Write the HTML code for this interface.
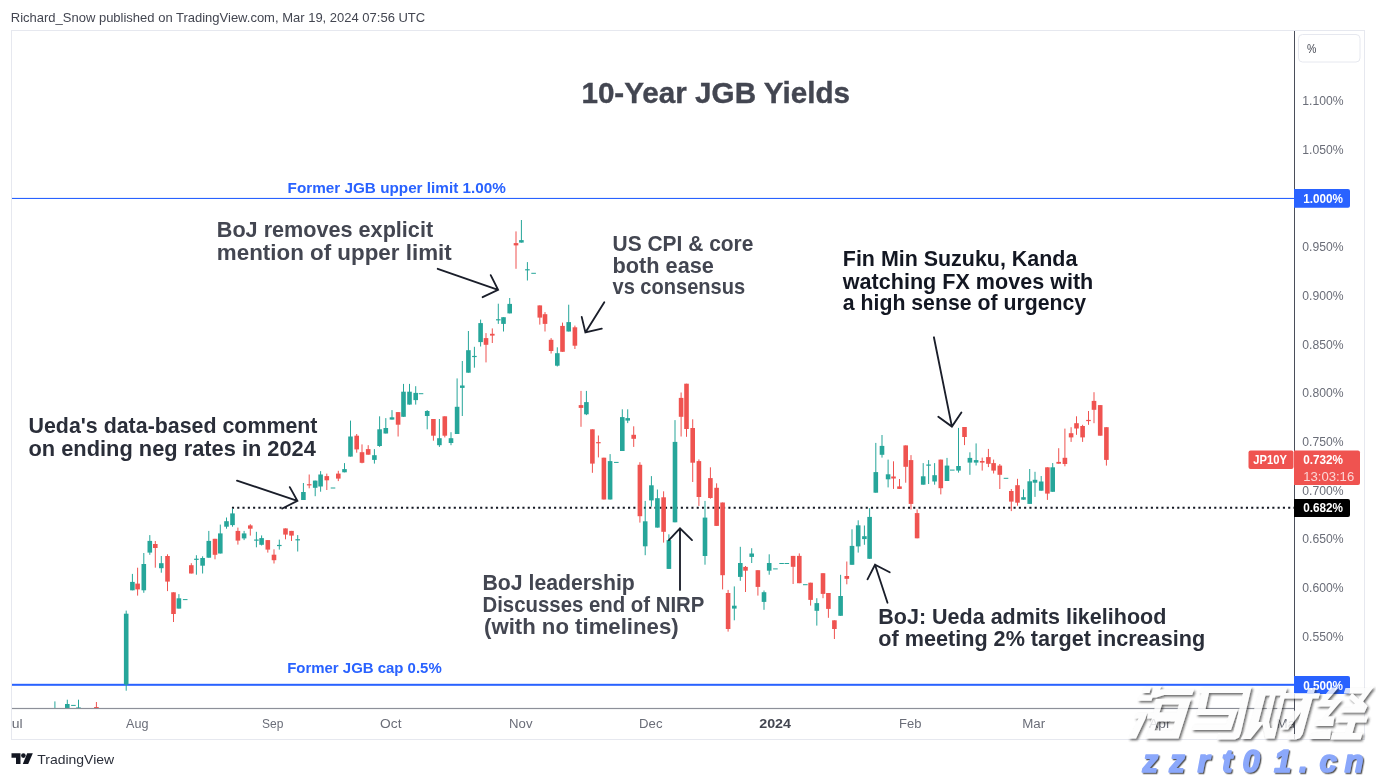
<!DOCTYPE html>
<html><head><meta charset="utf-8"><title>10-Year JGB Yields</title>
<style>
html,body{margin:0;padding:0;background:#fff;}
body{width:1376px;height:778px;overflow:hidden;font-family:"Liberation Sans",sans-serif;}
svg{display:block;}
svg text{font-family:"Liberation Sans",sans-serif;opacity:0.999;}
</style></head><body>
<svg width="1376" height="778" viewBox="0 0 1376 778">
<defs>
<clipPath id="cpL"><rect x="12" y="710" width="40" height="28"/></clipPath>
<clipPath id="cpR"><rect x="1260" y="710" width="34" height="28"/></clipPath>
<clipPath id="plot"><rect x="12" y="31" width="1282" height="677.5"/></clipPath>
</defs>
<rect x="0" y="0" width="1376" height="778" fill="#ffffff"/>
<!-- outer frame -->
<rect x="11.5" y="30.5" width="1353" height="709" fill="none" stroke="#e6e8ef" stroke-width="1"/>
<!-- horizontal lines -->
<rect x="12" y="197.9" width="1282" height="1.1" fill="#2962ff"/>
<rect x="12" y="683.8" width="1282" height="2" fill="#2962ff"/>
<!-- dotted line -->
<line x1="231.95" y1="507.85" x2="1294" y2="507.85" stroke="#131722" stroke-width="2" stroke-dasharray="2.1 3.181"/>
<g clip-path="url(#plot)">
<rect x="54.40" y="701.40" width="1.00" height="6.90" fill="#26a69a"/>
<rect x="66.80" y="699.70" width="1.00" height="8.60" fill="#26a69a"/>
<rect x="65.00" y="704.00" width="4.60" height="4.30" fill="#26a69a"/>
<rect x="71.10" y="704.90" width="4.60" height="1.00" fill="#26a69a"/>
<rect x="78.00" y="699.70" width="1.00" height="8.60" fill="#26a69a"/>
<rect x="76.20" y="707.40" width="4.60" height="1.00" fill="#26a69a"/>
<rect x="95.90" y="702.00" width="1.00" height="6.30" fill="#ef5350"/>
<rect x="94.10" y="707.00" width="4.60" height="1.30" fill="#ef5350"/>
<rect x="125.70" y="610.60" width="1.00" height="80.10" fill="#26a69a"/>
<rect x="123.90" y="613.70" width="4.60" height="70.80" fill="#26a69a"/>
<rect x="131.90" y="573.90" width="1.00" height="16.40" fill="#26a69a"/>
<rect x="130.10" y="581.90" width="4.60" height="8.40" fill="#26a69a"/>
<rect x="137.10" y="567.70" width="1.00" height="27.90" fill="#ef5350"/>
<rect x="135.30" y="583.60" width="4.60" height="5.80" fill="#ef5350"/>
<rect x="143.30" y="553.00" width="1.00" height="39.80" fill="#26a69a"/>
<rect x="141.50" y="564.00" width="4.60" height="26.30" fill="#26a69a"/>
<rect x="149.30" y="535.10" width="1.00" height="19.70" fill="#26a69a"/>
<rect x="147.50" y="540.90" width="4.60" height="11.70" fill="#26a69a"/>
<rect x="154.80" y="541.00" width="1.00" height="26.70" fill="#ef5350"/>
<rect x="153.00" y="544.00" width="4.60" height="4.00" fill="#ef5350"/>
<rect x="160.80" y="556.00" width="1.00" height="16.70" fill="#26a69a"/>
<rect x="159.00" y="563.20" width="4.60" height="5.00" fill="#26a69a"/>
<rect x="167.00" y="554.30" width="1.00" height="36.80" fill="#ef5350"/>
<rect x="165.20" y="556.00" width="4.60" height="25.60" fill="#ef5350"/>
<rect x="173.00" y="592.30" width="1.00" height="29.70" fill="#ef5350"/>
<rect x="171.20" y="592.30" width="4.60" height="21.70" fill="#ef5350"/>
<rect x="178.40" y="594.10" width="1.00" height="14.50" fill="#26a69a"/>
<rect x="176.60" y="598.30" width="4.60" height="10.30" fill="#26a69a"/>
<rect x="182.90" y="599.10" width="4.60" height="1.00" fill="#26a69a"/>
<rect x="190.80" y="563.20" width="1.00" height="10.30" fill="#ef5350"/>
<rect x="189.00" y="565.20" width="4.60" height="8.30" fill="#ef5350"/>
<rect x="195.90" y="555.20" width="1.00" height="19.50" fill="#26a69a"/>
<rect x="194.10" y="558.70" width="4.60" height="1.20" fill="#26a69a"/>
<rect x="202.10" y="556.30" width="1.00" height="17.20" fill="#26a69a"/>
<rect x="200.30" y="558.00" width="4.60" height="7.70" fill="#26a69a"/>
<rect x="208.30" y="530.90" width="1.00" height="26.80" fill="#26a69a"/>
<rect x="206.50" y="540.90" width="4.60" height="16.80" fill="#26a69a"/>
<rect x="214.50" y="538.80" width="1.00" height="20.50" fill="#ef5350"/>
<rect x="212.70" y="538.80" width="4.60" height="16.00" fill="#ef5350"/>
<rect x="219.80" y="524.60" width="1.00" height="28.90" fill="#26a69a"/>
<rect x="218.00" y="533.40" width="4.60" height="20.10" fill="#26a69a"/>
<rect x="226.00" y="517.50" width="1.00" height="11.20" fill="#26a69a"/>
<rect x="224.20" y="521.20" width="4.60" height="5.50" fill="#26a69a"/>
<rect x="232.00" y="508.70" width="1.00" height="18.00" fill="#26a69a"/>
<rect x="230.20" y="513.40" width="4.60" height="11.70" fill="#26a69a"/>
<rect x="237.40" y="527.60" width="1.00" height="17.00" fill="#ef5350"/>
<rect x="235.60" y="530.90" width="4.60" height="9.70" fill="#ef5350"/>
<rect x="243.60" y="530.90" width="1.00" height="9.20" fill="#26a69a"/>
<rect x="241.80" y="533.40" width="4.60" height="5.00" fill="#26a69a"/>
<rect x="249.80" y="524.20" width="1.00" height="11.40" fill="#ef5350"/>
<rect x="248.00" y="525.40" width="4.60" height="3.30" fill="#ef5350"/>
<rect x="255.90" y="531.80" width="1.00" height="15.50" fill="#26a69a"/>
<rect x="254.10" y="539.50" width="4.60" height="1.20" fill="#26a69a"/>
<rect x="261.10" y="535.40" width="1.00" height="10.10" fill="#26a69a"/>
<rect x="259.30" y="538.10" width="4.60" height="6.70" fill="#26a69a"/>
<rect x="267.30" y="540.10" width="1.00" height="12.50" fill="#ef5350"/>
<rect x="265.50" y="540.10" width="4.60" height="9.50" fill="#ef5350"/>
<rect x="273.50" y="549.30" width="1.00" height="14.20" fill="#ef5350"/>
<rect x="271.70" y="554.70" width="4.60" height="5.50" fill="#ef5350"/>
<rect x="278.80" y="539.60" width="1.00" height="10.00" fill="#26a69a"/>
<rect x="277.00" y="544.90" width="4.60" height="1.20" fill="#26a69a"/>
<rect x="285.00" y="528.40" width="1.00" height="10.90" fill="#ef5350"/>
<rect x="283.20" y="528.40" width="4.60" height="6.20" fill="#ef5350"/>
<rect x="291.00" y="530.90" width="1.00" height="10.10" fill="#ef5350"/>
<rect x="289.20" y="530.90" width="4.60" height="4.70" fill="#ef5350"/>
<rect x="297.20" y="535.10" width="1.00" height="16.40" fill="#26a69a"/>
<rect x="295.40" y="539.20" width="4.60" height="1.20" fill="#26a69a"/>
<rect x="302.90" y="483.00" width="1.00" height="17.00" fill="#26a69a"/>
<rect x="301.10" y="492.00" width="4.60" height="8.00" fill="#26a69a"/>
<rect x="308.70" y="474.50" width="1.00" height="13.80" fill="#ef5350"/>
<rect x="306.90" y="484.20" width="4.60" height="1.20" fill="#ef5350"/>
<rect x="314.70" y="480.60" width="1.00" height="15.60" fill="#26a69a"/>
<rect x="312.90" y="480.60" width="4.60" height="7.20" fill="#26a69a"/>
<rect x="320.10" y="471.10" width="1.00" height="20.60" fill="#26a69a"/>
<rect x="318.30" y="474.50" width="4.60" height="12.00" fill="#26a69a"/>
<rect x="326.30" y="473.60" width="1.00" height="16.40" fill="#ef5350"/>
<rect x="324.50" y="476.10" width="4.60" height="4.20" fill="#ef5350"/>
<rect x="330.70" y="487.50" width="4.60" height="1.00" fill="#26a69a"/>
<rect x="337.80" y="470.80" width="1.00" height="10.30" fill="#ef5350"/>
<rect x="336.00" y="473.60" width="4.60" height="5.00" fill="#ef5350"/>
<rect x="344.00" y="463.10" width="1.00" height="9.20" fill="#26a69a"/>
<rect x="342.20" y="469.10" width="4.60" height="3.20" fill="#26a69a"/>
<rect x="350.00" y="420.60" width="1.00" height="36.00" fill="#26a69a"/>
<rect x="348.20" y="436.50" width="4.60" height="20.10" fill="#26a69a"/>
<rect x="356.20" y="434.00" width="1.00" height="18.70" fill="#ef5350"/>
<rect x="354.40" y="435.70" width="4.60" height="13.70" fill="#ef5350"/>
<rect x="361.50" y="444.40" width="1.00" height="18.90" fill="#ef5350"/>
<rect x="359.70" y="452.20" width="4.60" height="10.60" fill="#ef5350"/>
<rect x="367.70" y="445.20" width="1.00" height="9.50" fill="#ef5350"/>
<rect x="365.90" y="449.10" width="4.60" height="5.60" fill="#ef5350"/>
<rect x="373.90" y="449.10" width="1.00" height="14.50" fill="#26a69a"/>
<rect x="372.10" y="455.20" width="4.60" height="4.70" fill="#26a69a"/>
<rect x="379.10" y="416.30" width="1.00" height="30.60" fill="#26a69a"/>
<rect x="377.30" y="429.30" width="4.60" height="16.70" fill="#26a69a"/>
<rect x="385.30" y="418.10" width="1.00" height="15.40" fill="#26a69a"/>
<rect x="383.50" y="428.00" width="4.60" height="5.50" fill="#26a69a"/>
<rect x="391.50" y="410.10" width="1.00" height="9.50" fill="#26a69a"/>
<rect x="389.70" y="417.30" width="4.60" height="2.30" fill="#26a69a"/>
<rect x="397.60" y="412.10" width="1.00" height="24.40" fill="#ef5350"/>
<rect x="395.80" y="412.10" width="4.60" height="12.60" fill="#ef5350"/>
<rect x="403.00" y="383.90" width="1.00" height="32.90" fill="#26a69a"/>
<rect x="401.20" y="391.70" width="4.60" height="25.10" fill="#26a69a"/>
<rect x="409.00" y="383.90" width="1.00" height="20.70" fill="#26a69a"/>
<rect x="407.20" y="391.70" width="4.60" height="12.90" fill="#26a69a"/>
<rect x="415.20" y="386.20" width="1.00" height="18.40" fill="#26a69a"/>
<rect x="413.40" y="392.90" width="4.60" height="7.20" fill="#26a69a"/>
<rect x="418.70" y="393.20" width="4.60" height="1.00" fill="#26a69a"/>
<rect x="426.70" y="410.10" width="1.00" height="19.20" fill="#26a69a"/>
<rect x="424.90" y="411.00" width="4.60" height="5.00" fill="#26a69a"/>
<rect x="432.90" y="419.00" width="1.00" height="21.70" fill="#ef5350"/>
<rect x="431.10" y="419.00" width="4.60" height="16.70" fill="#ef5350"/>
<rect x="438.90" y="419.00" width="1.00" height="27.90" fill="#26a69a"/>
<rect x="437.10" y="438.20" width="4.60" height="7.00" fill="#26a69a"/>
<rect x="444.30" y="416.30" width="1.00" height="21.10" fill="#ef5350"/>
<rect x="442.50" y="416.30" width="4.60" height="19.40" fill="#ef5350"/>
<rect x="450.50" y="432.20" width="1.00" height="13.00" fill="#26a69a"/>
<rect x="448.70" y="438.20" width="4.60" height="4.80" fill="#26a69a"/>
<rect x="456.60" y="378.40" width="1.00" height="55.60" fill="#26a69a"/>
<rect x="454.80" y="406.80" width="4.60" height="27.20" fill="#26a69a"/>
<rect x="461.80" y="361.00" width="1.00" height="55.00" fill="#26a69a"/>
<rect x="460.00" y="385.50" width="4.60" height="2.40" fill="#26a69a"/>
<rect x="467.90" y="331.00" width="1.00" height="41.70" fill="#26a69a"/>
<rect x="466.10" y="350.20" width="4.60" height="22.50" fill="#26a69a"/>
<rect x="473.90" y="346.80" width="1.00" height="20.90" fill="#26a69a"/>
<rect x="472.10" y="355.90" width="4.60" height="1.20" fill="#26a69a"/>
<rect x="480.10" y="319.60" width="1.00" height="26.90" fill="#26a69a"/>
<rect x="478.30" y="323.10" width="4.60" height="19.00" fill="#26a69a"/>
<rect x="485.50" y="333.10" width="1.00" height="29.30" fill="#ef5350"/>
<rect x="483.70" y="338.10" width="4.60" height="6.70" fill="#ef5350"/>
<rect x="491.80" y="328.40" width="1.00" height="14.60" fill="#ef5350"/>
<rect x="490.00" y="333.80" width="4.60" height="1.80" fill="#ef5350"/>
<rect x="497.80" y="303.70" width="1.00" height="20.20" fill="#26a69a"/>
<rect x="496.00" y="319.20" width="4.60" height="1.20" fill="#26a69a"/>
<rect x="503.00" y="317.20" width="1.00" height="14.30" fill="#26a69a"/>
<rect x="501.20" y="317.20" width="4.60" height="6.70" fill="#26a69a"/>
<rect x="509.20" y="298.00" width="1.00" height="15.40" fill="#26a69a"/>
<rect x="507.40" y="303.90" width="4.60" height="9.50" fill="#26a69a"/>
<rect x="515.50" y="231.40" width="1.00" height="37.40" fill="#ef5350"/>
<rect x="513.70" y="243.10" width="4.60" height="2.30" fill="#ef5350"/>
<rect x="520.90" y="220.00" width="1.00" height="22.60" fill="#26a69a"/>
<rect x="519.10" y="240.10" width="4.60" height="2.50" fill="#26a69a"/>
<rect x="526.90" y="262.10" width="1.00" height="18.40" fill="#26a69a"/>
<rect x="525.10" y="269.20" width="4.60" height="1.20" fill="#26a69a"/>
<rect x="531.30" y="272.80" width="4.60" height="1.00" fill="#26a69a"/>
<rect x="539.30" y="305.40" width="1.00" height="19.20" fill="#ef5350"/>
<rect x="537.50" y="305.40" width="4.60" height="12.20" fill="#ef5350"/>
<rect x="544.50" y="312.10" width="1.00" height="19.40" fill="#ef5350"/>
<rect x="542.70" y="314.20" width="4.60" height="9.70" fill="#ef5350"/>
<rect x="550.60" y="338.10" width="1.00" height="15.40" fill="#ef5350"/>
<rect x="548.80" y="339.80" width="4.60" height="11.20" fill="#ef5350"/>
<rect x="556.80" y="347.30" width="1.00" height="19.20" fill="#26a69a"/>
<rect x="555.00" y="353.20" width="4.60" height="12.50" fill="#26a69a"/>
<rect x="562.00" y="322.60" width="1.00" height="29.20" fill="#ef5350"/>
<rect x="560.20" y="325.90" width="4.60" height="25.90" fill="#ef5350"/>
<rect x="568.20" y="304.70" width="1.00" height="26.80" fill="#26a69a"/>
<rect x="566.40" y="322.10" width="4.60" height="9.40" fill="#26a69a"/>
<rect x="574.40" y="325.60" width="1.00" height="23.40" fill="#ef5350"/>
<rect x="572.60" y="327.30" width="4.60" height="18.40" fill="#ef5350"/>
<rect x="580.50" y="390.90" width="1.00" height="35.90" fill="#ef5350"/>
<rect x="578.70" y="405.10" width="4.60" height="2.80" fill="#ef5350"/>
<rect x="585.90" y="390.90" width="1.00" height="24.20" fill="#26a69a"/>
<rect x="584.10" y="402.10" width="4.60" height="12.20" fill="#26a69a"/>
<rect x="591.90" y="429.30" width="1.00" height="43.50" fill="#ef5350"/>
<rect x="590.10" y="429.30" width="4.60" height="34.30" fill="#ef5350"/>
<rect x="597.90" y="435.50" width="1.00" height="21.90" fill="#ef5350"/>
<rect x="596.10" y="442.10" width="4.60" height="1.20" fill="#ef5350"/>
<rect x="603.40" y="457.70" width="1.00" height="41.80" fill="#ef5350"/>
<rect x="601.60" y="457.70" width="4.60" height="41.80" fill="#ef5350"/>
<rect x="609.60" y="454.10" width="1.00" height="45.40" fill="#26a69a"/>
<rect x="607.80" y="461.10" width="4.60" height="38.40" fill="#26a69a"/>
<rect x="614.00" y="461.90" width="4.60" height="1.00" fill="#26a69a"/>
<rect x="621.80" y="409.30" width="1.00" height="41.70" fill="#26a69a"/>
<rect x="620.00" y="417.10" width="4.60" height="33.90" fill="#26a69a"/>
<rect x="627.20" y="409.30" width="1.00" height="13.80" fill="#26a69a"/>
<rect x="625.40" y="418.10" width="4.60" height="2.50" fill="#26a69a"/>
<rect x="633.20" y="426.30" width="1.00" height="20.60" fill="#ef5350"/>
<rect x="631.40" y="434.80" width="4.60" height="4.00" fill="#ef5350"/>
<rect x="639.40" y="462.20" width="1.00" height="60.40" fill="#ef5350"/>
<rect x="637.60" y="464.80" width="4.60" height="51.40" fill="#ef5350"/>
<rect x="644.70" y="500.90" width="1.00" height="54.30" fill="#26a69a"/>
<rect x="642.90" y="521.30" width="4.60" height="25.00" fill="#26a69a"/>
<rect x="650.90" y="476.10" width="1.00" height="30.60" fill="#26a69a"/>
<rect x="649.10" y="485.30" width="4.60" height="15.10" fill="#26a69a"/>
<rect x="656.90" y="489.50" width="1.00" height="38.10" fill="#26a69a"/>
<rect x="655.10" y="498.20" width="4.60" height="29.40" fill="#26a69a"/>
<rect x="663.10" y="491.30" width="1.00" height="51.30" fill="#ef5350"/>
<rect x="661.30" y="497.30" width="4.60" height="34.50" fill="#ef5350"/>
<rect x="668.40" y="534.30" width="1.00" height="34.60" fill="#26a69a"/>
<rect x="666.60" y="540.10" width="4.60" height="28.80" fill="#26a69a"/>
<rect x="674.50" y="420.10" width="1.00" height="102.20" fill="#26a69a"/>
<rect x="672.70" y="441.90" width="4.60" height="80.40" fill="#26a69a"/>
<rect x="680.60" y="392.50" width="1.00" height="44.00" fill="#ef5350"/>
<rect x="678.80" y="397.90" width="4.60" height="18.90" fill="#ef5350"/>
<rect x="686.00" y="383.70" width="1.00" height="53.10" fill="#ef5350"/>
<rect x="684.20" y="383.70" width="4.60" height="45.30" fill="#ef5350"/>
<rect x="692.20" y="419.30" width="1.00" height="62.70" fill="#ef5350"/>
<rect x="690.40" y="428.00" width="4.60" height="34.70" fill="#ef5350"/>
<rect x="698.40" y="459.40" width="1.00" height="46.50" fill="#ef5350"/>
<rect x="696.60" y="461.10" width="4.60" height="35.90" fill="#ef5350"/>
<rect x="704.50" y="500.90" width="1.00" height="63.80" fill="#26a69a"/>
<rect x="702.70" y="517.60" width="4.60" height="38.40" fill="#26a69a"/>
<rect x="709.90" y="467.30" width="1.00" height="31.40" fill="#ef5350"/>
<rect x="708.10" y="478.10" width="4.60" height="19.90" fill="#ef5350"/>
<rect x="716.10" y="483.30" width="1.00" height="42.60" fill="#ef5350"/>
<rect x="714.30" y="487.80" width="4.60" height="38.10" fill="#ef5350"/>
<rect x="722.10" y="502.50" width="1.00" height="86.90" fill="#ef5350"/>
<rect x="720.30" y="502.50" width="4.60" height="72.70" fill="#ef5350"/>
<rect x="727.60" y="589.90" width="1.00" height="41.70" fill="#ef5350"/>
<rect x="725.80" y="593.00" width="4.60" height="36.00" fill="#ef5350"/>
<rect x="733.80" y="586.40" width="1.00" height="33.90" fill="#26a69a"/>
<rect x="732.00" y="605.70" width="4.60" height="2.90" fill="#26a69a"/>
<rect x="739.80" y="546.80" width="1.00" height="34.00" fill="#26a69a"/>
<rect x="738.00" y="563.00" width="4.60" height="13.90" fill="#26a69a"/>
<rect x="745.00" y="566.00" width="1.00" height="26.00" fill="#ef5350"/>
<rect x="743.20" y="566.90" width="4.60" height="3.80" fill="#ef5350"/>
<rect x="751.20" y="548.20" width="1.00" height="14.80" fill="#26a69a"/>
<rect x="749.40" y="553.50" width="4.60" height="3.40" fill="#26a69a"/>
<rect x="757.40" y="570.20" width="1.00" height="25.40" fill="#ef5350"/>
<rect x="755.60" y="570.20" width="4.60" height="16.70" fill="#ef5350"/>
<rect x="763.50" y="590.50" width="1.00" height="19.30" fill="#26a69a"/>
<rect x="761.70" y="592.20" width="4.60" height="9.70" fill="#26a69a"/>
<rect x="768.70" y="554.30" width="1.00" height="20.40" fill="#26a69a"/>
<rect x="766.90" y="563.00" width="4.60" height="7.70" fill="#26a69a"/>
<rect x="773.10" y="568.40" width="4.60" height="1.00" fill="#26a69a"/>
<rect x="779.30" y="563.00" width="4.60" height="1.00" fill="#26a69a"/>
<rect x="784.50" y="563.00" width="4.60" height="1.00" fill="#26a69a"/>
<rect x="792.60" y="555.90" width="1.00" height="28.10" fill="#ef5350"/>
<rect x="790.80" y="555.90" width="4.60" height="10.90" fill="#ef5350"/>
<rect x="798.80" y="553.40" width="1.00" height="29.80" fill="#ef5350"/>
<rect x="797.00" y="555.90" width="4.60" height="27.30" fill="#ef5350"/>
<rect x="803.00" y="584.20" width="4.60" height="1.00" fill="#26a69a"/>
<rect x="810.10" y="582.70" width="1.00" height="22.90" fill="#ef5350"/>
<rect x="808.30" y="582.70" width="4.60" height="17.20" fill="#ef5350"/>
<rect x="816.30" y="598.20" width="1.00" height="27.40" fill="#26a69a"/>
<rect x="814.50" y="603.10" width="4.60" height="7.70" fill="#26a69a"/>
<rect x="822.50" y="573.20" width="1.00" height="25.00" fill="#ef5350"/>
<rect x="820.70" y="573.20" width="4.60" height="20.70" fill="#ef5350"/>
<rect x="827.90" y="593.00" width="1.00" height="24.80" fill="#ef5350"/>
<rect x="826.10" y="593.00" width="4.60" height="15.90" fill="#ef5350"/>
<rect x="833.90" y="620.30" width="1.00" height="18.70" fill="#ef5350"/>
<rect x="832.10" y="620.30" width="4.60" height="8.70" fill="#ef5350"/>
<rect x="840.10" y="574.80" width="1.00" height="41.00" fill="#26a69a"/>
<rect x="838.30" y="596.00" width="4.60" height="19.80" fill="#26a69a"/>
<rect x="846.30" y="561.50" width="1.00" height="22.80" fill="#ef5350"/>
<rect x="844.50" y="576.00" width="4.60" height="2.80" fill="#ef5350"/>
<rect x="851.50" y="529.30" width="1.00" height="35.50" fill="#26a69a"/>
<rect x="849.70" y="545.90" width="4.60" height="18.90" fill="#26a69a"/>
<rect x="857.70" y="520.30" width="1.00" height="32.30" fill="#26a69a"/>
<rect x="855.90" y="525.30" width="4.60" height="21.10" fill="#26a69a"/>
<rect x="863.90" y="525.50" width="1.00" height="19.30" fill="#26a69a"/>
<rect x="862.10" y="536.20" width="4.60" height="2.90" fill="#26a69a"/>
<rect x="869.10" y="508.10" width="1.00" height="50.70" fill="#26a69a"/>
<rect x="867.30" y="516.90" width="4.60" height="41.90" fill="#26a69a"/>
<rect x="875.30" y="442.90" width="1.00" height="49.80" fill="#26a69a"/>
<rect x="873.50" y="472.10" width="4.60" height="20.60" fill="#26a69a"/>
<rect x="881.50" y="435.00" width="1.00" height="22.60" fill="#26a69a"/>
<rect x="879.70" y="445.90" width="4.60" height="8.90" fill="#26a69a"/>
<rect x="887.60" y="459.60" width="1.00" height="27.80" fill="#26a69a"/>
<rect x="885.80" y="474.30" width="4.60" height="5.00" fill="#26a69a"/>
<rect x="893.00" y="461.30" width="1.00" height="27.60" fill="#ef5350"/>
<rect x="891.20" y="476.50" width="4.60" height="2.00" fill="#ef5350"/>
<rect x="899.00" y="479.00" width="1.00" height="9.90" fill="#ef5350"/>
<rect x="897.20" y="486.40" width="4.60" height="2.50" fill="#ef5350"/>
<rect x="905.20" y="445.40" width="1.00" height="37.30" fill="#ef5350"/>
<rect x="903.40" y="445.40" width="4.60" height="21.40" fill="#ef5350"/>
<rect x="910.50" y="455.10" width="1.00" height="54.30" fill="#ef5350"/>
<rect x="908.70" y="460.10" width="4.60" height="43.80" fill="#ef5350"/>
<rect x="916.60" y="509.40" width="1.00" height="28.90" fill="#ef5350"/>
<rect x="914.80" y="513.10" width="4.60" height="25.20" fill="#ef5350"/>
<rect x="922.70" y="463.10" width="1.00" height="21.60" fill="#26a69a"/>
<rect x="920.90" y="476.30" width="4.60" height="8.40" fill="#26a69a"/>
<rect x="928.10" y="460.10" width="1.00" height="23.90" fill="#26a69a"/>
<rect x="926.30" y="464.50" width="4.60" height="1.20" fill="#26a69a"/>
<rect x="934.10" y="463.10" width="1.00" height="21.60" fill="#26a69a"/>
<rect x="932.30" y="475.20" width="4.60" height="6.30" fill="#26a69a"/>
<rect x="940.30" y="459.60" width="1.00" height="34.80" fill="#ef5350"/>
<rect x="938.50" y="459.60" width="4.60" height="28.60" fill="#ef5350"/>
<rect x="946.50" y="457.90" width="1.00" height="23.10" fill="#26a69a"/>
<rect x="944.70" y="465.60" width="4.60" height="15.40" fill="#26a69a"/>
<rect x="950.00" y="469.60" width="4.60" height="1.00" fill="#26a69a"/>
<rect x="958.00" y="427.90" width="1.00" height="44.70" fill="#26a69a"/>
<rect x="956.20" y="466.00" width="4.60" height="4.60" fill="#26a69a"/>
<rect x="964.00" y="427.00" width="1.00" height="18.10" fill="#ef5350"/>
<rect x="962.20" y="427.00" width="4.60" height="10.00" fill="#ef5350"/>
<rect x="969.40" y="452.30" width="1.00" height="22.50" fill="#26a69a"/>
<rect x="967.60" y="457.90" width="4.60" height="4.70" fill="#26a69a"/>
<rect x="975.60" y="443.40" width="1.00" height="22.10" fill="#26a69a"/>
<rect x="973.80" y="460.10" width="4.60" height="2.50" fill="#26a69a"/>
<rect x="981.70" y="457.60" width="1.00" height="13.00" fill="#ef5350"/>
<rect x="979.90" y="461.00" width="4.60" height="1.60" fill="#ef5350"/>
<rect x="987.90" y="448.90" width="1.00" height="18.20" fill="#ef5350"/>
<rect x="986.10" y="457.10" width="4.60" height="6.70" fill="#ef5350"/>
<rect x="993.10" y="459.60" width="1.00" height="13.90" fill="#ef5350"/>
<rect x="991.30" y="463.10" width="4.60" height="7.50" fill="#ef5350"/>
<rect x="999.30" y="464.00" width="1.00" height="25.00" fill="#ef5350"/>
<rect x="997.50" y="465.60" width="4.60" height="9.20" fill="#ef5350"/>
<rect x="1003.70" y="477.80" width="4.60" height="1.00" fill="#26a69a"/>
<rect x="1010.80" y="489.00" width="1.00" height="22.10" fill="#ef5350"/>
<rect x="1009.00" y="491.00" width="4.60" height="10.60" fill="#ef5350"/>
<rect x="1017.00" y="478.80" width="1.00" height="26.90" fill="#ef5350"/>
<rect x="1015.20" y="485.20" width="4.60" height="17.50" fill="#ef5350"/>
<rect x="1023.00" y="489.40" width="1.00" height="10.30" fill="#26a69a"/>
<rect x="1021.20" y="497.20" width="4.60" height="2.50" fill="#26a69a"/>
<rect x="1029.20" y="469.00" width="1.00" height="34.90" fill="#26a69a"/>
<rect x="1027.40" y="481.30" width="4.60" height="22.60" fill="#26a69a"/>
<rect x="1034.50" y="471.80" width="1.00" height="25.10" fill="#26a69a"/>
<rect x="1032.70" y="479.80" width="4.60" height="2.90" fill="#26a69a"/>
<rect x="1040.70" y="476.00" width="1.00" height="14.70" fill="#26a69a"/>
<rect x="1038.90" y="481.50" width="4.60" height="9.20" fill="#26a69a"/>
<rect x="1046.90" y="467.30" width="1.00" height="32.60" fill="#ef5350"/>
<rect x="1045.10" y="467.30" width="4.60" height="26.30" fill="#ef5350"/>
<rect x="1052.20" y="463.00" width="1.00" height="28.80" fill="#26a69a"/>
<rect x="1050.40" y="467.30" width="4.60" height="24.50" fill="#26a69a"/>
<rect x="1058.20" y="448.20" width="1.00" height="15.50" fill="#ef5350"/>
<rect x="1056.40" y="461.90" width="4.60" height="1.80" fill="#ef5350"/>
<rect x="1064.40" y="428.60" width="1.00" height="37.70" fill="#ef5350"/>
<rect x="1062.60" y="457.80" width="4.60" height="6.20" fill="#ef5350"/>
<rect x="1070.60" y="427.20" width="1.00" height="14.70" fill="#ef5350"/>
<rect x="1068.80" y="433.20" width="4.60" height="4.20" fill="#ef5350"/>
<rect x="1076.00" y="416.30" width="1.00" height="18.50" fill="#ef5350"/>
<rect x="1074.20" y="423.20" width="4.60" height="5.30" fill="#ef5350"/>
<rect x="1082.10" y="424.80" width="1.00" height="17.10" fill="#ef5350"/>
<rect x="1080.30" y="426.00" width="4.60" height="11.40" fill="#ef5350"/>
<rect x="1088.00" y="411.00" width="1.00" height="13.80" fill="#ef5350"/>
<rect x="1086.20" y="419.90" width="4.60" height="1.20" fill="#ef5350"/>
<rect x="1093.50" y="392.20" width="1.00" height="31.00" fill="#ef5350"/>
<rect x="1091.70" y="400.90" width="4.60" height="8.90" fill="#ef5350"/>
<rect x="1099.70" y="405.10" width="1.00" height="30.60" fill="#ef5350"/>
<rect x="1097.90" y="405.10" width="4.60" height="30.60" fill="#ef5350"/>
<rect x="1105.90" y="427.20" width="1.00" height="38.40" fill="#ef5350"/>
<rect x="1104.10" y="427.20" width="4.60" height="32.70" fill="#ef5350"/>
</g>
<!-- time axis line -->
<rect x="12" y="707.9" width="1282" height="1.2" fill="#8d9099"/>
<!-- price axis line -->
<rect x="1294" y="31" width="1" height="708" fill="#4a4e5a"/>
<!-- % box -->
<rect x="1298.5" y="34.5" width="61.5" height="27.5" rx="4" ry="4" fill="#fff" stroke="#e6e8ef" stroke-width="1"/>
<!-- arrows -->
<path d="M437.7 268.8L498.1 289.8M490.7 275.1L498.1 289.8L482.6 297.2" fill="none" stroke="#1a1e2a" stroke-width="1.85" stroke-linecap="round" stroke-linejoin="miter"/>
<path d="M604.3 302.2L585.4 332.4M581.7 316.9L585.4 332.4L601.8 328.6" fill="none" stroke="#1a1e2a" stroke-width="1.85" stroke-linecap="round" stroke-linejoin="miter"/>
<path d="M933.9 337.3L951.9 426.6M938.3 416.8L951.9 426.6L961.4 412.4" fill="none" stroke="#1a1e2a" stroke-width="1.85" stroke-linecap="round" stroke-linejoin="miter"/>
<path d="M237 480.6L297.4 500.8M289.8 487.1L297.4 500.8L282.3 508.5" fill="none" stroke="#1a1e2a" stroke-width="1.85" stroke-linecap="round" stroke-linejoin="miter"/>
<path d="M680 589.9L680 528.4M668.9 540.1L680 528.4L692 540.1" fill="none" stroke="#1a1e2a" stroke-width="1.85" stroke-linecap="round" stroke-linejoin="miter"/>
<path d="M887.5 602.7L875 564.8M867.5 579.3L875 564.8L889.7 572.3" fill="none" stroke="#1a1e2a" stroke-width="1.85" stroke-linecap="round" stroke-linejoin="miter"/>
<!-- price labels -->
<path d="M1294 189h54a2 2 0 0 1 2 2v14.7a2 2 0 0 1-2 2h-54z" fill="#2962ff"/>
<text x="1303.2" y="202.9" font-size="12.5" font-weight="bold" fill="#fff" textLength="39.8" lengthAdjust="spacingAndGlyphs">1.000%</text>
<path d="M1294 499h54a2 2 0 0 1 2 2v14a2 2 0 0 1-2 2h-54z" fill="#000"/>
<text x="1303.2" y="512.4" font-size="12.5" font-weight="bold" fill="#fff" textLength="39.8" lengthAdjust="spacingAndGlyphs">0.682%</text>
<path d="M1294 676h54a2 2 0 0 1 2 2v14a2 2 0 0 1-2 2h-54z" fill="#2962ff"/>
<text x="1303.2" y="689.6" font-size="12.5" font-weight="bold" fill="#fff" textLength="39.8" lengthAdjust="spacingAndGlyphs">0.500%</text>
<rect x="1248.5" y="450.6" width="45" height="18.4" rx="2" fill="#ef5350"/>
<text x="1253.3" y="464.2" font-size="12.5" font-weight="bold" fill="#fff" textLength="33.6" lengthAdjust="spacingAndGlyphs">JP10Y</text>
<path d="M1294 450.6h64a2 2 0 0 1 2 2v30.4a2 2 0 0 1-2 2h-64z" fill="#ef5350"/>
<text x="1303.2" y="464.2" font-size="12.5" font-weight="bold" fill="#fff" textLength="39.8" lengthAdjust="spacingAndGlyphs">0.732%</text>
<text x="1303.2" y="480.6" font-size="12.5" font-weight="normal" fill="#fbd5d4" textLength="51" lengthAdjust="spacingAndGlyphs">13:03:16</text>
<!-- texts -->
<text x="10.8" y="21.7" font-size="13" font-weight="normal" fill="#434651" text-anchor="start" textLength="414.4" lengthAdjust="spacingAndGlyphs">Richard_Snow published on TradingView.com, Mar 19, 2024 07:56 UTC</text>
<text x="581.4" y="102.5" font-size="29.5" font-weight="bold" fill="#434651" text-anchor="start" textLength="268.6" lengthAdjust="spacingAndGlyphs" stroke="#434651" stroke-width="0.35">10-Year JGB Yields</text>
<text x="287.6" y="192.6" font-size="14.6" font-weight="bold" fill="#2962ff" text-anchor="start" textLength="218.2" lengthAdjust="spacingAndGlyphs">Former JGB upper limit 1.00%</text>
<text x="287.2" y="672.5" font-size="14.6" font-weight="bold" fill="#2962ff" text-anchor="start" textLength="154.5" lengthAdjust="spacingAndGlyphs">Former JGB cap 0.5%</text>
<text x="216.8" y="237.4" font-size="21.7" font-weight="bold" fill="#434651" text-anchor="start" textLength="216.3" lengthAdjust="spacingAndGlyphs">BoJ removes explicit</text>
<text x="216.8" y="259.5" font-size="21.7" font-weight="bold" fill="#434651" text-anchor="start" textLength="234.9" lengthAdjust="spacingAndGlyphs">mention of upper limit</text>
<text x="612.5" y="250.6" font-size="21.7" font-weight="bold" fill="#434651" text-anchor="start" textLength="140.9" lengthAdjust="spacingAndGlyphs">US CPI &amp; core</text>
<text x="612.5" y="272.6" font-size="21.7" font-weight="bold" fill="#434651" text-anchor="start" textLength="101.4" lengthAdjust="spacingAndGlyphs">both ease</text>
<text x="612.5" y="294.3" font-size="21.7" font-weight="bold" fill="#434651" text-anchor="start" textLength="132.6" lengthAdjust="spacingAndGlyphs">vs consensus</text>
<text x="842.8" y="266.4" font-size="21.7" font-weight="bold" fill="#131722" text-anchor="start" textLength="234.5" lengthAdjust="spacingAndGlyphs">Fin Min Suzuku, Kanda</text>
<text x="842.8" y="288.5" font-size="21.7" font-weight="bold" fill="#131722" text-anchor="start" textLength="250.5" lengthAdjust="spacingAndGlyphs">watching FX moves with</text>
<text x="842.8" y="310.3" font-size="21.7" font-weight="bold" fill="#131722" text-anchor="start" textLength="243.3" lengthAdjust="spacingAndGlyphs">a high sense of urgency</text>
<text x="28.5" y="433.4" font-size="21.7" font-weight="bold" fill="#2a2e39" text-anchor="start" textLength="289.0" lengthAdjust="spacingAndGlyphs">Ueda's data-based comment</text>
<text x="28.5" y="455.5" font-size="21.7" font-weight="bold" fill="#2a2e39" text-anchor="start" textLength="287.4" lengthAdjust="spacingAndGlyphs">on ending neg rates in 2024</text>
<text x="482.5" y="589.9" font-size="21.7" font-weight="bold" fill="#434651" text-anchor="start" textLength="152.3" lengthAdjust="spacingAndGlyphs">BoJ leadership</text>
<text x="482.5" y="611.9" font-size="21.7" font-weight="bold" fill="#434651" text-anchor="start" textLength="221.9" lengthAdjust="spacingAndGlyphs">Discusses end of NIRP</text>
<text x="484.0" y="633.7" font-size="21.7" font-weight="bold" fill="#434651" text-anchor="start" textLength="194.6" lengthAdjust="spacingAndGlyphs">(with no timelines)</text>
<text x="878.3" y="623.8" font-size="21.7" font-weight="bold" fill="#2a2e39" text-anchor="start" textLength="288.0" lengthAdjust="spacingAndGlyphs">BoJ: Ueda admits likelihood</text>
<text x="878.3" y="645.5" font-size="21.7" font-weight="bold" fill="#2a2e39" text-anchor="start" textLength="326.8" lengthAdjust="spacingAndGlyphs">of meeting 2% target increasing</text>
<text x="1302.3" y="105.4" font-size="12" font-weight="normal" fill="#6a6d78" text-anchor="start" textLength="41.2" lengthAdjust="spacingAndGlyphs">1.100%</text>
<text x="1302.3" y="154.0" font-size="12" font-weight="normal" fill="#6a6d78" text-anchor="start" textLength="41.2" lengthAdjust="spacingAndGlyphs">1.050%</text>
<text x="1302.3" y="251.4" font-size="12" font-weight="normal" fill="#6a6d78" text-anchor="start" textLength="41.2" lengthAdjust="spacingAndGlyphs">0.950%</text>
<text x="1302.3" y="300.0" font-size="12" font-weight="normal" fill="#6a6d78" text-anchor="start" textLength="41.2" lengthAdjust="spacingAndGlyphs">0.900%</text>
<text x="1302.3" y="348.7" font-size="12" font-weight="normal" fill="#6a6d78" text-anchor="start" textLength="41.2" lengthAdjust="spacingAndGlyphs">0.850%</text>
<text x="1302.3" y="397.3" font-size="12" font-weight="normal" fill="#6a6d78" text-anchor="start" textLength="41.2" lengthAdjust="spacingAndGlyphs">0.800%</text>
<text x="1302.3" y="445.9" font-size="12" font-weight="normal" fill="#6a6d78" text-anchor="start" textLength="41.2" lengthAdjust="spacingAndGlyphs">0.750%</text>
<text x="1302.3" y="494.6" font-size="12" font-weight="normal" fill="#6a6d78" text-anchor="start" textLength="41.2" lengthAdjust="spacingAndGlyphs">0.700%</text>
<text x="1302.3" y="543.2" font-size="12" font-weight="normal" fill="#6a6d78" text-anchor="start" textLength="41.2" lengthAdjust="spacingAndGlyphs">0.650%</text>
<text x="1302.3" y="591.9" font-size="12" font-weight="normal" fill="#6a6d78" text-anchor="start" textLength="41.2" lengthAdjust="spacingAndGlyphs">0.600%</text>
<text x="1302.3" y="640.5" font-size="12" font-weight="normal" fill="#6a6d78" text-anchor="start" textLength="41.2" lengthAdjust="spacingAndGlyphs">0.550%</text>
<text x="1307.1" y="52.5" font-size="12.5" font-weight="normal" fill="#434651" text-anchor="start" textLength="9.4" lengthAdjust="spacingAndGlyphs">%</text>
<text x="126.1" y="728.3" font-size="12.5" font-weight="normal" fill="#6a6d78" text-anchor="start" textLength="22.4" lengthAdjust="spacingAndGlyphs">Aug</text>
<text x="262.1" y="728.3" font-size="12.5" font-weight="normal" fill="#6a6d78" text-anchor="start" textLength="21.4" lengthAdjust="spacingAndGlyphs">Sep</text>
<text x="380.1" y="728.3" font-size="12.5" font-weight="normal" fill="#6a6d78" text-anchor="start" textLength="21.4" lengthAdjust="spacingAndGlyphs">Oct</text>
<text x="509.1" y="728.3" font-size="12.5" font-weight="normal" fill="#6a6d78" text-anchor="start" textLength="23.4" lengthAdjust="spacingAndGlyphs">Nov</text>
<text x="639.1" y="728.3" font-size="12.5" font-weight="normal" fill="#6a6d78" text-anchor="start" textLength="23.4" lengthAdjust="spacingAndGlyphs">Dec</text>
<text x="759.2" y="728.3" font-size="12.5" font-weight="bold" fill="#434651" text-anchor="start" textLength="31.8" lengthAdjust="spacingAndGlyphs">2024</text>
<text x="899.1" y="728.3" font-size="12.5" font-weight="normal" fill="#6a6d78" text-anchor="start" textLength="22.4" lengthAdjust="spacingAndGlyphs">Feb</text>
<text x="1022.3" y="728.3" font-size="12.5" font-weight="normal" fill="#6a6d78" text-anchor="start" textLength="22.9" lengthAdjust="spacingAndGlyphs">Mar</text>
<text x="1149.1" y="728.3" font-size="12.5" font-weight="normal" fill="#6a6d78" text-anchor="start" textLength="21.4" lengthAdjust="spacingAndGlyphs">Apr</text>
<text x="4.8" y="728.3" font-size="12.5" font-weight="normal" fill="#6a6d78" text-anchor="start" textLength="17.9" lengthAdjust="spacingAndGlyphs" clip-path="url(#cpL)">Jul</text>
<text x="1276.6" y="728.3" font-size="12.5" font-weight="normal" fill="#6a6d78" text-anchor="start" textLength="25.4" lengthAdjust="spacingAndGlyphs" clip-path="url(#cpR)">May</text>
<!-- TradingView logo -->
<g fill="#131722">
<path d="M11.5 753.3h9v10.6h-4.5v-6.1h-4.5z"/>
<circle cx="23.4" cy="755.6" r="2.3"/>
<path d="M27.2 753.3h5.6l-4.6 10.6h-5.4z"/>
</g>
<text x="37.3" y="763.7" font-size="13.3" fill="#2a2e39" textLength="76.8" lengthAdjust="spacingAndGlyphs">TradingView</text>
<defs>
<filter id="wsh" x="-5%" y="-10%" width="110%" height="125%"><feDropShadow dx="1.6" dy="1.7" stdDeviation="0.9" flood-color="#2b2b2b" flood-opacity="0.85"/></filter>
<filter id="bsh" x="-5%" y="-10%" width="110%" height="125%"><feDropShadow dx="1.3" dy="1.3" stdDeviation="0.35" flood-color="#444" flood-opacity="0.9"/></filter>
</defs>
<g filter="url(#wsh)" opacity="0.82">
<g fill="#fdfdfd" fill-rule="evenodd" stroke="none">
<!-- hai -->
<path d="M1143.5 687h7.5l-1.5 6h-7.5z"/>
<path d="M1139 695.5h14l-1.5 5.2h-14z"/>
<path d="M1136 713h11l-1.5 5.5l-9.5 20h-8l10.5-20h-4z"/>
<path d="M1154 686h7.5l-1.500 3.500h34l-1.800 5.500h-28l-8 2.500h-5.700z"/>
<path d="M1156 699h35l-12.500 39.500h-33l6.500-20h-5l1.500-5.500h5.200zM1162 704.500h17l-2.500 8h-17zM1157.500 721.500h17.500l-3 9h-17.500z"/>
<!-- ma -->
<path d="M1201 687.500h45l-1.500 5.500h-35.500l-3.500 16h32.500l-7 21h-39.500l1.800-5.800h32.700l3-9.200h-33l1.500-6h0.500l3.500-16h-2z"/>
<path d="M1244.500 687h7l-10.700 46l-1.800 4.500l-4 2h-18l1.500-6h15z"/>
<!-- cai -->
<path d="M1260 688h27l-12.500 50.500h-9l-3-14.500l-12 15h-9.500l9.500-17zM1265.500 695.500l-7 26.500h5l6.500-26.500zM1275.500 695.500l-6.500 26.500l1.200 6l2.300 0l8-32.500z"/>
<path d="M1284 693h23l1.300-5h7l-1.300 5h6l-1.500 5.500h-6l-9.800 35.500l-2.700 4l-4 1.500h-8.500l1.500-5.500h6l6-22l-13 17.500h-7.500l22-29.500l0.500-1.500h-20.500z"/>
<!-- jing -->
<path d="M1331 687.500h7.500l-11 12.500h14.500l-14 16.500h6.500l-1.500 9.500h-18.500l1.500-5.500h5l9.500-14h-14.500z"/>
<path d="M1310.500 733.500l20.500-4l-1 9.500h-20.500z"/>
<path d="M1345.500 688h21.500l7-1.500l-11 15l4.500 4.500l-3 6.500h-24l1.800-5h8.200l4.500-4l-6-5.500l3-5l6.500 6l4-5.500h-18.800z"/>
<path d="M1337.500 716.500h30.500l-1.800 6h-10.700l-3 10.500h10l-1.800 6.500h-30l1.800-6.500h12.500l3-10.500h-12.300z"/>
</g>
</g>
<g filter="url(#bsh)">
<text font-size="31" font-weight="bold" font-style="italic" fill="#8ba8fb" stroke="#8ba8fb" stroke-width="1.6" stroke-linejoin="round" y="772" x="1142.5 1169.3 1197.5 1222 1242.5 1274 1299 1319.5 1344.5">zzrt01.cn</text>
</g>
</svg>
</body></html>
